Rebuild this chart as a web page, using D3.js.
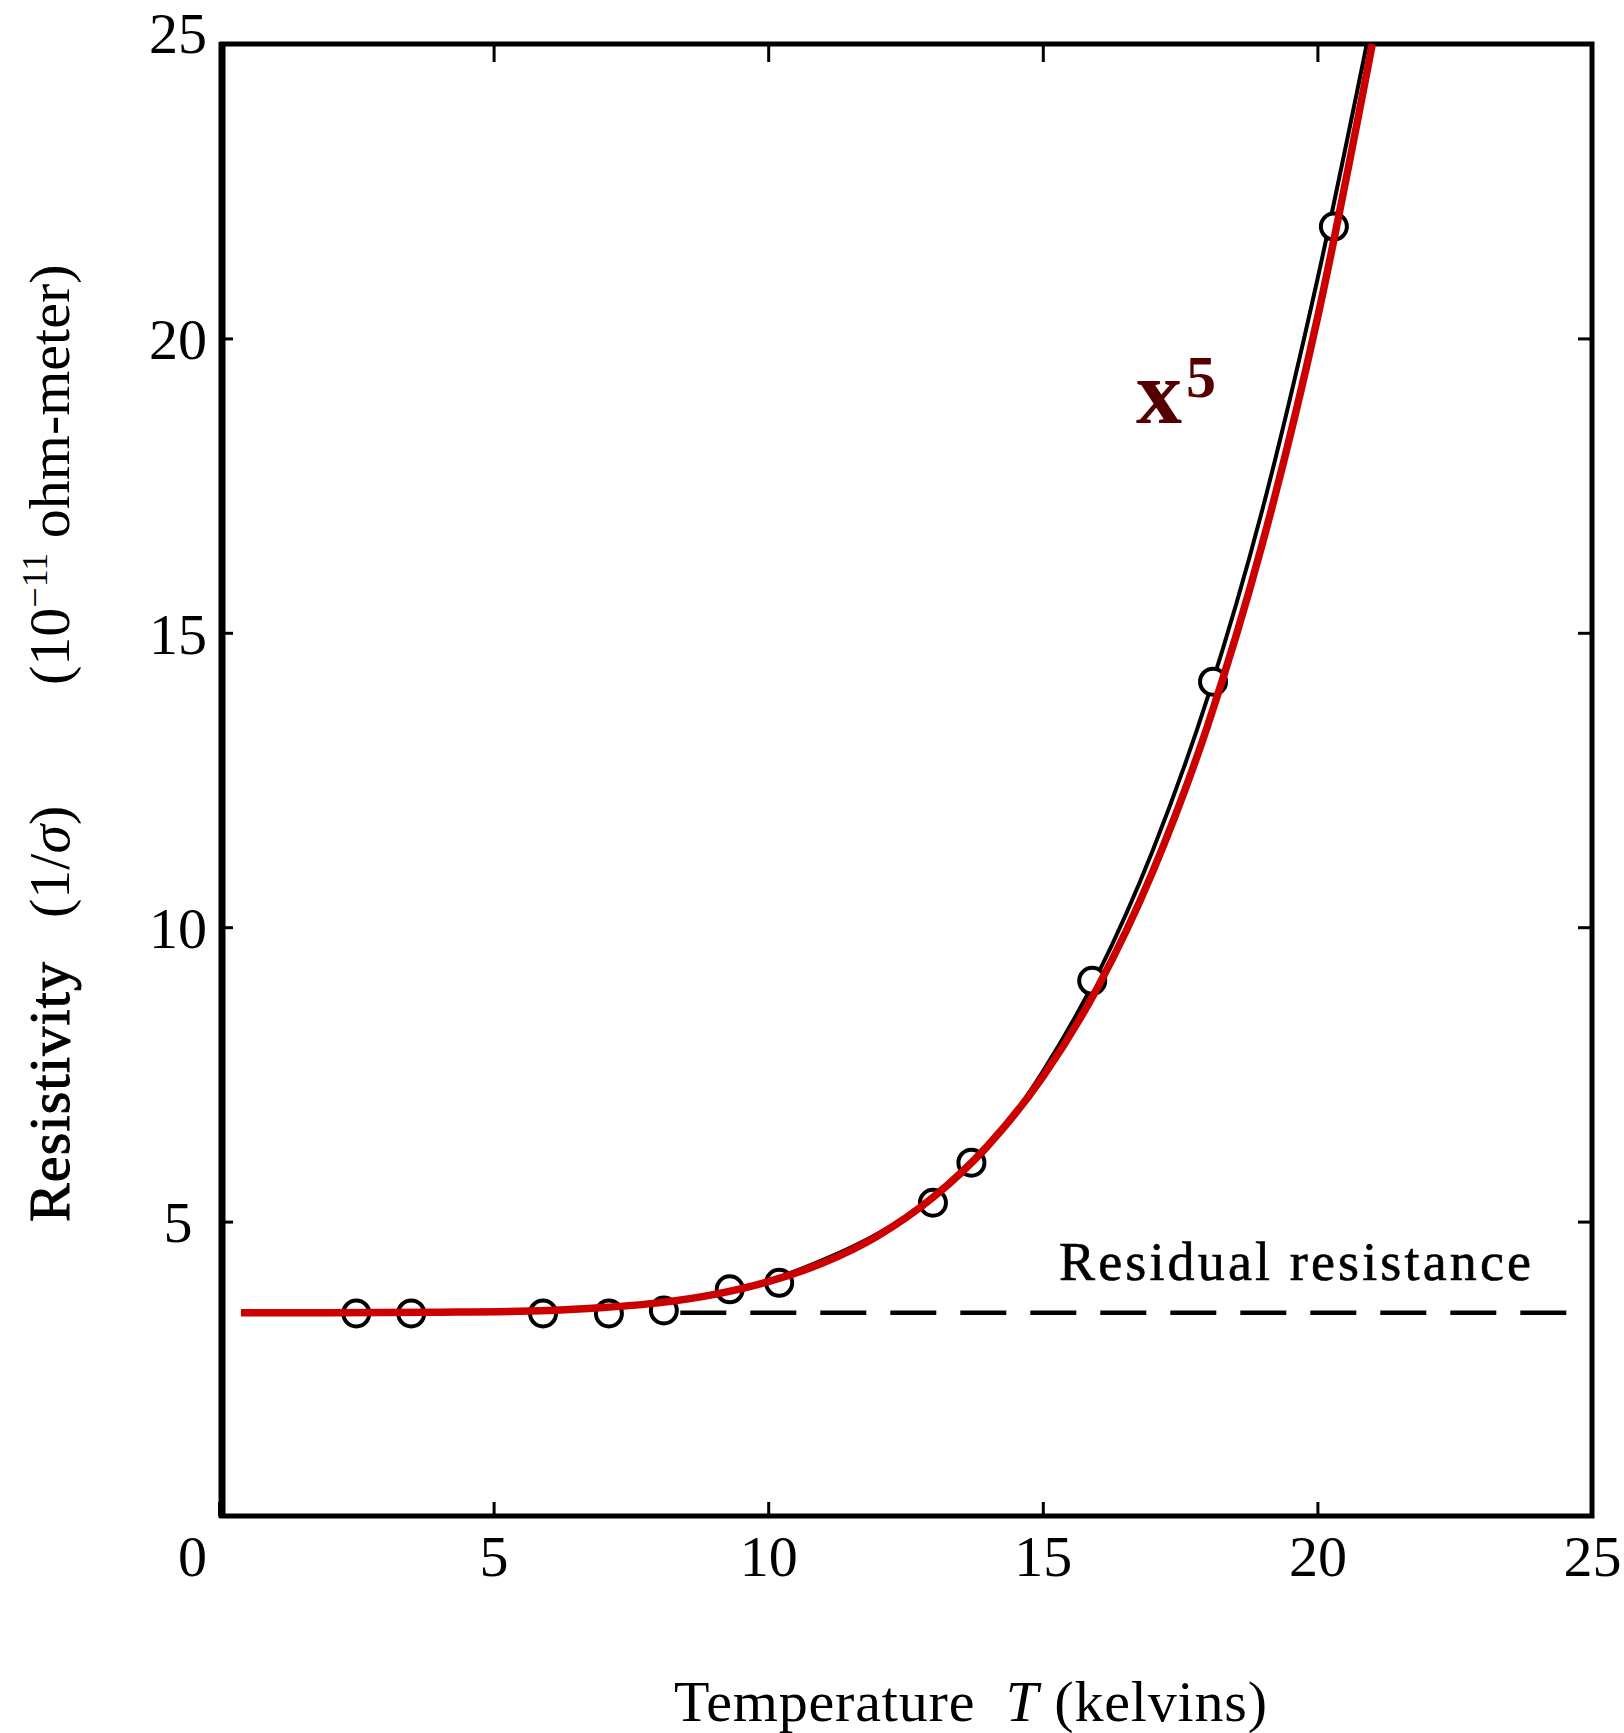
<!DOCTYPE html>
<html>
<head>
<meta charset="utf-8">
<script src="https://cdn.jsdelivr.net/npm/d3@7"></script>
<style>
  body { margin: 0; background: #fff; }
  svg { display: block; }
  text { font-family: "Liberation Serif", "DejaVu Serif", serif; fill: #000; }
</style>
</head>
<body>
<div id="chart"></div>
<script>
// measured points (T in kelvins, resistivity in 1e-11 ohm-meter)
var tempPoints = [2.5, 3.5, 5.9, 7.1, 8.1, 9.3, 10.2, 13.0, 13.7, 15.9, 18.1, 20.3]
var rhoPoints = [3.44, 3.44, 3.44, 3.44, 3.49, 3.85, 3.96, 5.32, 6.0, 9.09, 14.17, 21.9]

// red T^5 curve
var tempFit = [0.4, 2, 4, 6, 7, 8, 9, 10, 11, 12, 13, 14, 15, 16, 17, 18, 19, 20, 21]
var rhoFit = [3.45, 3.45, 3.46, 3.49, 3.54, 3.62, 3.76, 3.98, 4.30, 4.76, 5.41, 6.29, 7.46, 8.98, 10.94, 13.42, 16.52, 20.34, 25.0]

// hand-drawn black curve (mostly hidden under the red one)
var tempHand = [8, 9, 10, 11, 12, 13, 14, 15, 16, 17, 18, 19, 20, 20.9]
var rhoHand = [3.6, 3.78, 4.0, 4.35, 4.8, 5.4, 6.25, 7.55, 9.2, 11.3, 13.9, 17.1, 21.0, 25.0]

var residual = 3.45
var residualRange = [8.4, 24.75]

var xTicks = [0, 5, 10, 15, 20, 25]
var yTicks = [5, 10, 15, 20, 25]

var width = 1624, height = 1733

var x = d3.scaleLinear().domain([0, 25]).range([219, 1592])
var y = d3.scaleLinear().domain([0, 25]).range([1516, 44])

var svg = d3.select('#chart')
  .append('svg')
  .attr('width', width)
  .attr('height', height)

/* ticks, inward on all four sides */
var axisB = svg.append('g')
  .attr('transform', 'translate(0,' + y(0) + ')')
  .call(d3.axisBottom(x).tickValues(xTicks).tickSize(-14).tickPadding(0))
axisB.select('.domain').remove()
axisB.selectAll('line').attr('stroke', '#000').attr('stroke-width', 3)
axisB.selectAll('text')
  .attr('y', 40)
  .attr('dy', '0.35em')
  .attr('dx', d => d === 0 ? -27 : 0)
  .style('font-size', '58px')
  .style('font-family', '"Liberation Serif", serif')

var axisT = svg.append('g')
  .attr('transform', 'translate(0,' + y(25) + ')')
  .call(d3.axisTop(x).tickValues([5, 10, 15, 20]).tickSize(-18).tickFormat(''))
axisT.select('.domain').remove()
axisT.selectAll('line').attr('stroke', '#000').attr('stroke-width', 3)

var axisL = svg.append('g')
  .attr('transform', 'translate(' + x(0) + ',0)')
  .call(d3.axisLeft(y).tickValues(yTicks).tickSize(-14).tickPadding(0))
axisL.select('.domain').remove()
axisL.selectAll('line').attr('stroke', '#000').attr('stroke-width', 3)
axisL.selectAll('text')
  .attr('x', -41)
  .attr('dy', d => d === 25 ? '0.15em' : '0.35em')
  .attr('text-anchor', 'middle')
  .style('font-size', '58px')
  .style('font-family', '"Liberation Serif", serif')

var axisR = svg.append('g')
  .attr('transform', 'translate(' + x(25) + ',0)')
  .call(d3.axisRight(y).tickValues([5, 10, 15, 20]).tickSize(-14).tickFormat(''))
axisR.select('.domain').remove()
axisR.selectAll('line').attr('stroke', '#000').attr('stroke-width', 3)

/* frame */
svg.append('rect')
  .attr('x', x(0) + 3)
  .attr('y', y(25))
  .attr('width', x(25) - x(0) - 3)
  .attr('height', y(0) - y(25))
  .attr('fill', 'none')
  .attr('stroke', '#000')
  .attr('stroke-width', 5)
svg.append('line')
  .attr('x1', x(0) + 3).attr('x2', x(0) + 3)
  .attr('y1', y(25) - 2).attr('y2', y(0) + 2)
  .attr('stroke', '#000')
  .attr('stroke-width', 7)

/* residual resistance dashed line */
svg.append('line')
  .attr('x1', x(residualRange[0]))
  .attr('x2', x(residualRange[1]))
  .attr('y1', y(residual))
  .attr('y2', y(residual))
  .attr('stroke', '#000')
  .attr('stroke-width', 4.5)
  .attr('stroke-dasharray', '46,24')

svg.append('text')
  .attr('x', 1059)
  .attr('y', 1280)
  .attr('textLength', 472)
  .attr('lengthAdjust', 'spacing')
  .style('font-size', '54px')
  .style('stroke', '#000')
  .style('stroke-width', 0.6)
  .text('Residual resistance')

var line = d3.line()
  .curve(d3.curveMonotoneX)
  .x(d => x(d[0]))
  .y(d => y(d[1]))

/* black hand curve */
svg.append('path')
  .datum(d3.zip(tempHand, rhoHand))
  .attr('d', line)
  .attr('fill', 'none')
  .attr('stroke', '#000')
  .attr('stroke-width', 4)

/* data circles */
svg.selectAll('.pt')
  .data(d3.zip(tempPoints, rhoPoints))
  .join('circle')
  .attr('class', 'pt')
  .attr('cx', d => x(d[0]))
  .attr('cy', d => y(d[1]))
  .attr('r', 13)
  .attr('fill', '#fff')
  .attr('stroke', '#000')
  .attr('stroke-width', 4)

/* red fit curve */
svg.append('path')
  .datum(d3.zip(tempFit, rhoFit))
  .attr('d', line)
  .attr('fill', 'none')
  .attr('stroke', '#cc0000')
  .attr('stroke-width', 7.5)

/* x^5 label */
var lab = svg.append('text')
  .attr('x', 1136)
  .attr('y', 423)
  .style('fill', '#550000')
  .style('font-weight', 'bold')
lab.append('tspan').style('font-size', '92px').text('x')
lab.append('tspan').attr('dx', 4).attr('dy', -26).style('font-size', '60px').text('5')

/* axis titles */
svg.append('text')
  .attr('x', 674)
  .attr('y', 1721)
  .attr('textLength', 593)
  .attr('lengthAdjust', 'spacing')
  .style('font-size', '58px')
  .html('Temperature&#160;&#160;<tspan font-style="italic">T</tspan> (kelvins)')

svg.append('text')
  .attr('transform', 'translate(69,1222) rotate(-90)')
  .attr('textLength', 260)
  .attr('lengthAdjust', 'spacing')
  .style('font-size', '58px')
  .style('stroke', '#000')
  .style('stroke-width', 1)
  .text('Resistivity')

svg.append('text')
  .attr('transform', 'translate(69,918) rotate(-90)')
  .style('font-size', '58px')
  .html('(1/<tspan font-style="italic">σ</tspan>)')

var unit = svg.append('text')
  .attr('transform', 'translate(69,685) rotate(-90)')
  .style('font-size', '58px')
unit.append('tspan').text('(10')
unit.append('tspan').attr('dy', -22).style('font-size', '36px').text('−11')
unit.append('tspan').attr('dy', 22).text(' ohm-meter)')
</script>
</body>
</html>
